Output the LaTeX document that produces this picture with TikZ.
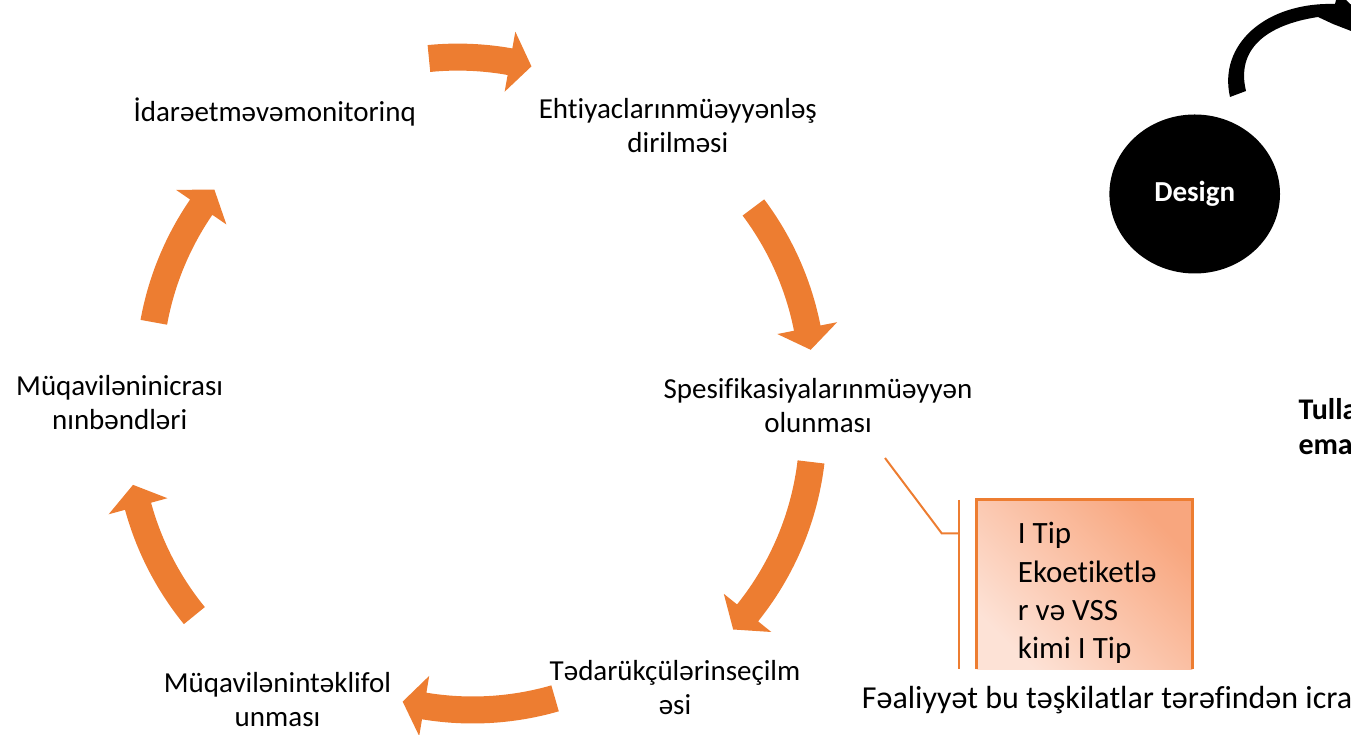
\documentclass[tikz,border=0pt]{standalone}
\usepackage{fontspec}
\setmainfont{Carlito}[Ligatures=NoCommon]
\usetikzlibrary{shapes.geometric}
\definecolor{cycOrange}{RGB}{237,125,49}
\definecolor{boxLight}{RGB}{253,226,214}
\definecolor{boxDark}{RGB}{248,166,126}
\newcommand{\cycArrow}[4]{\fill[arrowStyle, shift={(#1,#2)}] (#3:310.5) arc[start angle=#3, end angle=#4, radius=310.5] -- (#4:327.5) -- ({#4-4.24}:297) -- (#4:266.5) -- (#4:283.5) arc[start angle=#4, end angle=#3, radius=283.5] -- cycle;}
\begin{document}
\begin{tikzpicture}[x=1pt, y=1pt, labelStyle/.style={align=center, font=\fontsize{29}{34}\selectfont, inner sep=0pt, anchor=base}, arrowStyle/.style={fill=cycOrange}, leadStyle/.style={draw=cycOrange, line width=2pt}]
\useasboundingbox (0,0) rectangle (1351,735);
\clip (0,0) rectangle (1351,735);

\node[labelStyle] (idare)   at (274.7, 613.3) {İdarəetməvəmonitorinq};
\node[labelStyle] (ehtiyac) at (677.8, 582.0) {Ehtiyaclarınmüəyyənləş\\dirilməsi};
\node[labelStyle] (spesif)  at (818.0, 302.3) {Spesifikasiyalarınmüəyyən\\olunması};
\node[labelStyle] (tedaruk) at (675.0,  20.0) {Tədarükçülərinseçilm\\əsi};
\node[labelStyle] (teklif)  at (277.5,   8.0) {Müqavilənintəklifol\\unması};
\node[labelStyle] (icra)    at (119.7, 305.7) {Müqaviləninicrası\\nınbəndləri};

\cycArrow{457.9}{380.9}{95.6}{79.9}
\cycArrow{515.9}{349.2}{36.9}{11.2}
\cycArrow{516.1}{308.2}{-6.8}{-38.8}
\cycArrow{472.7}{322.0}{-73.9}{-99.4}
\cycArrow{424.5}{307.1}{219.2}{195.3}
\cycArrow{446.0}{359.6}{169.7}{145.5}

\node[ellipse, fill=black, minimum width=170.6pt, minimum height=159pt, text=white, font=\bfseries\fontsize{29}{34}\selectfont] (design) at (1194.7, 541) {Design};
\fill[black] (1230,638) .. controls (1218,690) and (1265,733) .. (1335,731) -- (1338,743) -- (1395,687) -- (1333,711) -- (1318,718) .. controls (1265,710) and (1236,685) .. (1246,644) -- cycle;

\node[labelStyle, align=left, anchor=base west, font=\bfseries\fontsize{30}{35}\selectfont] (tulla) at (1298.3, 280) {Tulla\\ema};

\shade[bottom color=boxLight, top color=boxDark, shading angle=-45] (976.7,65.7) rectangle (1192.3,235.7);
\draw[leadStyle, line width=2.5pt] (976.7,65.7) |- (1192.3,235.7) -- (1192.3,65.7);
\node[anchor=base west, align=left, inner sep=0pt, font=\fontsize{31}{38.1}\selectfont] (boxText) at (1017.7, 76.7) {I Tip\\Ekoetiketlə\\r və VSS\\kimi I Tip};

\coordinate (leadStart)  at (885.0, 277.0);
\coordinate (leadBend)   at (941.7, 201.7);
\coordinate (bracketMid) at (959.3, 201.7);
\coordinate (bracketTop) at (959.3, 235.0);
\coordinate (bracketBot) at (959.3,  65.7);
\draw[leadStyle] (leadStart) -- (leadBend) -- (bracketMid);
\draw[leadStyle] (bracketTop) -- (bracketBot);

\node[anchor=base west, inner sep=0pt, font=\fontsize{32}{38}\selectfont] (activity) at (861.7, 26.7) {Fəaliyyət bu təşkilatlar tərəfindən icra};
\end{tikzpicture}
\end{document}
